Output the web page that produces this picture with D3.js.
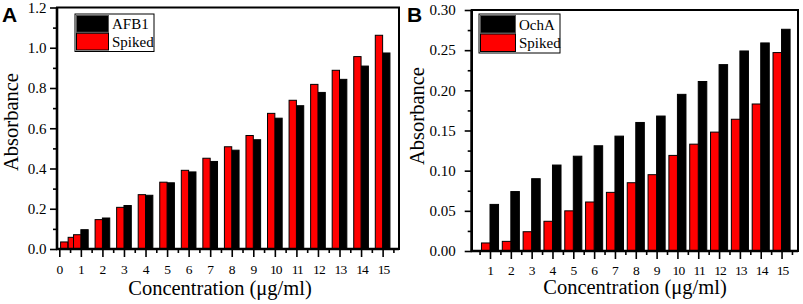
<!DOCTYPE html>
<html><head><meta charset="utf-8">
<script src="https://cdn.jsdelivr.net/npm/d3@7"></script>
<style>
body{margin:0;background:#fff}
svg{display:block}
svg text{font-family:"Liberation Serif","Times New Roman","DejaVu Serif",serif !important;fill:#000}
svg text.letter{font-family:"Liberation Sans",Arial,"DejaVu Sans",sans-serif !important}
</style>
</head><body>
<svg id="c" width="803" height="304"></svg>
<script>
// ---- Panel A data ----
const concA   = [0.4, 0.75, 1, 2, 3, 4, 5, 6, 7, 8, 9, 10, 11, 12, 13, 14, 15];
const afb1    = [0.030, 0.055, 0.096, 0.154, 0.216, 0.267, 0.329, 0.383, 0.435, 0.491, 0.543, 0.650, 0.712, 0.778, 0.843, 0.909, 0.974];
const spikedA = [0.035, 0.058, 0.071, 0.146, 0.207, 0.270, 0.332, 0.391, 0.451, 0.508, 0.564, 0.674, 0.739, 0.818, 0.888, 0.956, 1.062];
// ---- Panel B data ----
const concB   = [1, 2, 3, 4, 5, 6, 7, 8, 9, 10, 11, 12, 13, 14, 15];
const ochA    = [0.058, 0.074, 0.090, 0.107, 0.118, 0.131, 0.143, 0.160, 0.168, 0.195, 0.211, 0.232, 0.249, 0.259, 0.276];
const spikedB = [0.010, 0.012, 0.024, 0.037, 0.050, 0.061, 0.073, 0.085, 0.095, 0.119, 0.133, 0.148, 0.164, 0.183, 0.247];
// ---- tick labels ----
const xTicksA = [0, 1, 2, 3, 4, 5, 6, 7, 8, 9, 10, 11, 12, 13, 14, 15];
const xTicksB = [1, 2, 3, 4, 5, 6, 7, 8, 9, 10, 11, 12, 13, 14, 15];
const yTicksA = [0, 0.2, 0.4, 0.6, 0.8, 1.0, 1.2];
const yTicksB = [0, 0.05, 0.10, 0.15, 0.20, 0.25, 0.30];
const seriesNamesA = ["AFB1", "Spiked"];
const seriesNamesB = ["OchA", "Spiked"];

const svg = d3.select("#c");
svg.append("rect").attr("width",803).attr("height",304).attr("fill","#fff");

function panel(c){
  const g = svg.append("g");
  const x = d3.scaleLinear().domain(c.xDomain).range([c.left, c.right]);
  const y = d3.scaleLinear().domain(c.yDomain).range([c.bottom, c.top]);
  const bw = x(c.barW) - x(0);

  // black series first, red drawn on top
  g.selectAll("rect.blk").data(c.conc.map((v,i)=>({x:v,y:c.black[i]}))).enter()
    .append("rect").attr("x",d=>x(d.x)).attr("y",d=>y(d.y))
    .attr("width",bw).attr("height",d=>y(0)-y(d.y))
    .attr("fill","#000").attr("stroke","#000").attr("stroke-width",1);
  g.selectAll("rect.red").data(c.conc.map((v,i)=>({x:v,y:c.red[i]}))).enter()
    .append("rect").attr("x",d=>x(d.x)-bw).attr("y",d=>y(d.y))
    .attr("width",bw).attr("height",d=>y(0)-y(d.y))
    .attr("fill","#ff0000").attr("stroke","#000").attr("stroke-width",1);

  // axes
  const xMaj = d3.axisBottom(x).tickValues(c.xTicks).tickSize(8).tickPadding(c.xPad).tickFormat(d3.format("d"));
  const xMinVals = d3.range(Math.ceil(c.xDomain[0]*2)/2, c.xDomain[1], 0.5).filter(v=>Math.abs(v-Math.round(v))>0.1);
  const xMin = d3.axisBottom(x).tickValues(xMinVals).tickSize(4).tickFormat("");
  const yMaj = d3.axisLeft(y).tickValues(c.yTicks).tickSize(7).tickPadding(c.yPad).tickFormat(d3.format(c.yFmt));
  const yMinVals = c.yTicks.slice(0,-1).map((v,i)=>(v+c.yTicks[i+1])/2);
  const yMin = d3.axisLeft(y).tickValues(yMinVals).tickSize(4).tickFormat("");

  [[xMaj,`translate(0,${c.bottom})`,true],[xMin,`translate(0,${c.bottom})`,true],
   [yMaj,`translate(${c.left},0)`,false],[yMin,`translate(${c.left},0)`,false]].forEach(([ax,t,isX])=>{
     const a = g.append("g").attr("transform",t).call(ax);
     a.attr("font-family",null);
     a.select(".domain").remove();
     a.selectAll("line").attr("stroke","#000").attr("stroke-width",1.6);
     const tx = a.selectAll("text").attr("font-size",isX?13.5:15).attr("fill","#000");
     if(isX) tx.attr("letter-spacing",d=>d>=10?-0.9:0).attr("dx",d=>d>=10?0.45:0);
  });

  // frame
  g.append("rect").attr("x",c.left).attr("y",c.top).attr("width",c.right-c.left).attr("height",c.bottom-c.top)
    .attr("fill","none").attr("stroke","#000").attr("stroke-width",2);
  g.append("line").attr("x1",c.left).attr("x2",c.left).attr("y1",c.top).attr("y2",c.bottom+1)
    .attr("stroke","#000").attr("stroke-width",2.6);
  g.append("line").attr("x1",c.left-1).attr("x2",c.right).attr("y1",c.bottom).attr("y2",c.bottom)
    .attr("stroke","#000").attr("stroke-width",2.6);

  // legend
  const L = c.legend;
  g.append("rect").attr("x",L.x).attr("y",L.y).attr("width",L.w).attr("height",L.h)
    .attr("fill","#fff").attr("stroke","#000").attr("stroke-width",1);
  const sh = (L.h-4)/2;
  [["#000","#555"],["#ff0000","#000"]].forEach((col,i)=>{
    g.append("rect").attr("x",L.x+1.5).attr("y",L.y+1.5+i*(sh+1)).attr("width",L.sw).attr("height",sh)
      .attr("fill",col[0]).attr("stroke",col[1]).attr("stroke-width",1);
    g.append("text").attr("x",L.x+L.sw+5).attr("y",L.y+1.5+i*(sh+1)+sh-3.5)
      .attr("font-size",15).text(c.names[i]);
  });

  // titles
  g.append("text").attr("x",c.titleX).attr("y",c.titleY).attr("text-anchor","middle")
    .attr("font-size",20.5).text("Concentration (μg/ml)");
  g.append("text").attr("transform",`translate(${c.ylabX},${c.ylabY}) rotate(-90)`).attr("text-anchor","middle")
    .attr("font-size",20.5).text("Absorbance");
  g.append("text").attr("class","letter").attr("x",c.letterX).attr("y",22).attr("font-size",21).attr("font-weight","bold")
    .text(c.letter);
}

panel({left:57,right:399,top:7.5,bottom:249,
  xDomain:[-0.107,15.76], yDomain:[0,1.2], conc:concA, black:afb1, red:spikedA,
  xTicks:xTicksA, yTicks:yTicksA, yFmt:".1f", barW:0.34, xPad:7, yPad:3.5,
  legend:{x:75,y:14,w:79,h:37.5,sw:32}, names:seriesNamesA,
  titleX:220, titleY:295, ylabX:18, ylabY:122, letter:"A", letterX:2});

panel({left:471.7,right:798,top:10,bottom:251,
  xDomain:[0.121,15.79], yDomain:[0,0.30], conc:concB, black:ochA, red:spikedB,
  xTicks:xTicksB, yTicks:yTicksB, yFmt:".2f", barW:0.41, xPad:6, yPad:9,
  legend:{x:479,y:14,w:81,h:39,sw:35}, names:seriesNamesB,
  titleX:635, titleY:294, ylabX:424, ylabY:116, letter:"B", letterX:407});
</script>
</body></html>
